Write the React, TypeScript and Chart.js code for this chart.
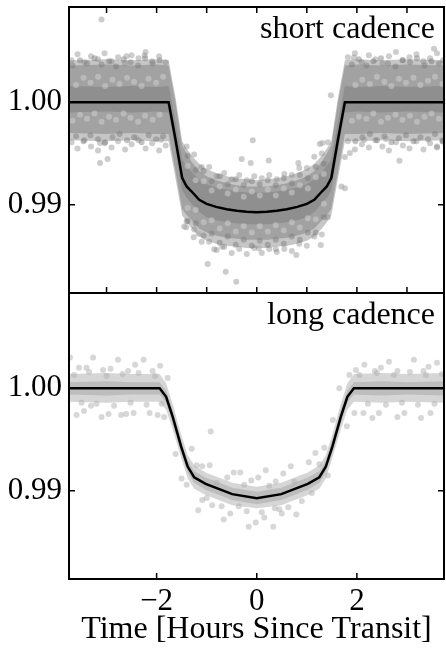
import { useEffect, useRef } from 'react';
import { Chart, registerables } from 'chart.js';

Chart.register(...registerables);

// ---- axis limits (shared by both panels) ----
const X_MIN = -3.75;
const X_MAX = 3.74;
const Y_MIN = 0.9814;
const Y_MAX = 1.0093;

// ---- tick values ----
const yTickValues = [0.99, 1.0];
const xLabelTicks = [-2, 0, 2];
const xMinorTicks = [-3, -2, -1, 0, 1, 2, 3];

// ---- short cadence: transit model ----
const shortX = [-3.75, -3.0, -2.5, -2.0, -1.76, -1.62, -1.49, -1.4, -1.3, -1.15, -1.0, -0.81, -0.6, -0.4, -0.2, 0, 0.2, 0.4, 0.6, 0.81, 1.0, 1.15, 1.3, 1.4, 1.49, 1.62, 1.76, 2.0, 2.5, 3.0, 3.74];
const shortModel = [1, 1, 1, 1, 1, 0.9963, 0.99264, 0.99179, 0.9913, 0.99049, 0.9901, 0.9898, 0.98958, 0.98942, 0.98932, 0.98928, 0.98932, 0.98942, 0.98958, 0.9898, 0.9901, 0.99049, 0.9913, 0.99179, 0.99264, 0.9963, 1, 1, 1, 1, 1];

// short cadence point cloud: outer (light), middle and core (dark) density envelopes
const shortOuterHi = [1.0041, 1.0042, 1.0041, 1.0042, 1.0041, 1.0004, 0.9962, 0.9955, 0.9948, 0.994, 0.9935, 0.9931, 0.9928, 0.9926, 0.9925, 0.9924, 0.9925, 0.9926, 0.9928, 0.9931, 0.9935, 0.994, 0.9948, 0.9955, 0.9962, 1.0004, 1.0041, 1.0042, 1.0041, 1.0042, 1.0041];
const shortOuterLo = [0.9963, 0.9962, 0.9963, 0.9962, 0.9962, 0.9925, 0.989, 0.9883, 0.9877, 0.9869, 0.9865, 0.9862, 0.986, 0.9859, 0.9858, 0.9858, 0.9858, 0.9859, 0.986, 0.9862, 0.9865, 0.9869, 0.9877, 0.9883, 0.989, 0.9925, 0.9962, 0.9962, 0.9963, 0.9962, 0.9963];
const shortMidHi = [1.0036, 1.0037, 1.0036, 1.0037, 1.0036, 0.9999, 0.9958, 0.995, 0.9942, 0.9933, 0.9928, 0.9924, 0.9921, 0.9919, 0.9918, 0.9918, 0.9918, 0.9919, 0.9921, 0.9924, 0.9928, 0.9933, 0.9942, 0.995, 0.9958, 0.9999, 1.0036, 1.0037, 1.0036, 1.0037, 1.0036];
const shortMidLo = [0.997, 0.9969, 0.997, 0.9969, 0.9969, 0.9932, 0.9896, 0.989, 0.9885, 0.9877, 0.9873, 0.987, 0.9868, 0.9867, 0.9866, 0.9866, 0.9866, 0.9867, 0.9868, 0.987, 0.9873, 0.9877, 0.9885, 0.989, 0.9896, 0.9932, 0.9969, 0.9969, 0.997, 0.9969, 0.997];
const shortCoreHi = [1.0016, 1.0015, 1.0016, 1.0015, 1.0016, 0.998, 0.9944, 0.9938, 0.9932, 0.9925, 0.992, 0.9917, 0.9915, 0.9913, 0.9912, 0.9912, 0.9912, 0.9913, 0.9915, 0.9917, 0.992, 0.9925, 0.9932, 0.9938, 0.9944, 0.998, 1.0016, 1.0015, 1.0016, 1.0015, 1.0016];
const shortCoreLo = [0.999, 0.9991, 0.999, 0.9991, 0.999, 0.9952, 0.9914, 0.9907, 0.9901, 0.9893, 0.9888, 0.9885, 0.9883, 0.9882, 0.9881, 0.9881, 0.9881, 0.9882, 0.9883, 0.9885, 0.9888, 0.9893, 0.9901, 0.9907, 0.9914, 0.9952, 0.999, 0.9991, 0.999, 0.9991, 0.999];

// short cadence ragged cloud edge
const shortFuzzX = [
  -3.7, -3.58, -3.44, -3.31, -3.17, -3.04, -2.9, -2.77, -2.63, -2.5, -2.36, -2.22, -2.09, -1.95, -1.82,
  1.82, 1.96, 2.1, 2.24, 2.37, 2.51, 2.64, 2.78, 2.92, 3.05, 3.19, 3.33, 3.46, 3.6, 3.72,
  -3.7, -3.58, -3.44, -3.31, -3.17, -3.04, -2.9, -2.77, -2.63, -2.5, -2.36, -2.22, -2.09, -1.95, -1.82,
  1.82, 1.96, 2.1, 2.24, 2.37, 2.51, 2.64, 2.78, 2.92, 3.05, 3.19, 3.33, 3.46, 3.6, 3.72,
  -1.4, -1.25, -1.1, -0.95, -0.8, -0.65, -0.5, -0.35, -0.2, -0.05, 0.1, 0.25, 0.4, 0.55, 0.7, 0.85, 1.0, 1.15, 1.3, 1.42,
  -1.4, -1.25, -1.1, -0.95, -0.8, -0.65, -0.5, -0.35, -0.2, -0.05, 0.1, 0.25, 0.4, 0.55, 0.7, 0.85, 1.0, 1.15, 1.3, 1.42,
];
const shortFuzzY = [
  1.0041, 1.0047, 1.0039, 1.0045, 1.0042, 1.0048, 1.004, 1.0044, 1.0038, 1.0046, 1.0043, 1.0049, 1.004, 1.0045, 1.0039,
  1.0044, 1.0048, 1.0039, 1.0046, 1.0042, 1.0038, 1.0045, 1.0049, 1.0041, 1.0044, 1.0047, 1.004, 1.0043, 1.0048, 1.0041,
  0.9961, 0.9955, 0.9963, 0.9957, 0.9953, 0.996, 0.9956, 0.9962, 0.9954, 0.9959, 0.9963, 0.9955, 0.996, 0.9953, 0.9958,
  0.9962, 0.9954, 0.9959, 0.9956, 0.9963, 0.9957, 0.9953, 0.9961, 0.9958, 0.9955, 0.9962, 0.9954, 0.996, 0.9956, 0.9962,
  0.9957, 0.9949, 0.9937, 0.9937, 0.9928, 0.9931, 0.9925, 0.9929, 0.9924, 0.9928, 0.9926, 0.9929, 0.9925, 0.993, 0.9929, 0.9936, 0.9936, 0.9947, 0.995, 0.9961,
  0.9884, 0.9876, 0.9864, 0.9864, 0.9856, 0.9859, 0.9853, 0.9857, 0.9852, 0.9858, 0.9853, 0.9857, 0.9854, 0.9857, 0.9855, 0.9862, 0.986, 0.9869, 0.9871, 0.9888,
];

// short cadence darker specks in the light fringe
const shortDarkX = [
  -3.68, -3.53, -3.39, -3.24, -3.1, -2.95, -2.81, -2.66, -2.52, -2.37, -2.23, -2.08, -1.94, 1.9, 2.04, 2.19, 2.33, 2.48, 2.62, 2.77, 2.91, 3.06, 3.2, 3.35, 3.49, 3.64,
  -3.61, -3.46, -3.32, -3.17, -3.03, -2.88, -2.74, -2.59, -2.45, -2.3, -2.16, -2.01, -1.87, 1.97, 2.11, 2.26, 2.4, 2.55, 2.69, 2.84, 2.98, 3.13, 3.27, 3.42, 3.56, 3.71,
  -1.38, -1.22, -1.06, -0.9, -0.74, -0.58, -0.42, -0.26, -0.1, 0.06, 0.22, 0.38, 0.54, 0.7, 0.86, 1.02, 1.18, 1.34,
  -1.38, -1.22, -1.06, -0.9, -0.74, -0.58, -0.42, -0.26, -0.1, 0.06, 0.22, 0.38, 0.54, 0.7, 0.86, 1.02, 1.18, 1.34,
];
const shortDarkY = [
  1.0036, 1.0041, 1.0038, 1.0043, 1.0037, 1.004, 1.0035, 1.0042, 1.0039, 1.0036, 1.0043, 1.0038, 1.0041, 1.0037, 1.0042, 1.0036, 1.004, 1.0043, 1.0038, 1.0035, 1.0041, 1.0039, 1.0043, 1.0036, 1.004, 1.0038,
  0.9967, 0.9962, 0.9968, 0.9964, 0.9961, 0.9966, 0.9969, 0.9963, 0.9966, 0.9961, 0.9968, 0.9964, 0.9967, 0.9962, 0.9966, 0.9969, 0.9963, 0.9967, 0.9961, 0.9965, 0.9968, 0.9962, 0.9966, 0.9964, 0.9969, 0.9963,
  0.9948, 0.9934, 0.9933, 0.9923, 0.9928, 0.992, 0.9925, 0.9919, 0.9923, 0.992, 0.9924, 0.9919, 0.9926, 0.9921, 0.9929, 0.9926, 0.9937, 0.994,
  0.9884, 0.9882, 0.987, 0.9872, 0.9863, 0.9869, 0.9861, 0.9866, 0.986, 0.9865, 0.9861, 0.9866, 0.9862, 0.9869, 0.9866, 0.9873, 0.9873, 0.9888,
];

// short cadence lighter specks inside the dense band
const shortLightX = [
  -3.61, -3.46, -3.32, -3.17, -3.03, -2.88, -2.74, -2.59, -2.45, -2.3, -2.16, -2.01, -1.87, 1.97, 2.11, 2.26, 2.4, 2.55, 2.69, 2.84, 2.98, 3.13, 3.27, 3.42, 3.56, 3.71,
  -3.68, -3.53, -3.39, -3.24, -3.1, -2.95, -2.81, -2.66, -2.52, -2.37, -2.23, -2.08, -1.94, 1.9, 2.04, 2.19, 2.33, 2.48, 2.62, 2.77, 2.91, 3.06, 3.2, 3.35, 3.49, 3.64,
  -1.38, -1.22, -1.06, -0.9, -0.74, -0.58, -0.42, -0.26, -0.1, 0.06, 0.22, 0.38, 0.54, 0.7, 0.86, 1.02, 1.18, 1.34,
  -1.38, -1.22, -1.06, -0.9, -0.74, -0.58, -0.42, -0.26, -0.1, 0.06, 0.22, 0.38, 0.54, 0.7, 0.86, 1.02, 1.18, 1.34,
];
const shortLightY = [
  1.0017, 1.0024, 1.0019, 1.0025, 1.0016, 1.0022, 1.0018, 1.0024, 1.002, 1.0016, 1.0023, 1.0019, 1.0025, 1.0017, 1.0022, 1.0018, 1.0025, 1.002, 1.0016, 1.0023, 1.0019, 1.0024, 1.0017, 1.0021, 1.0025, 1.0018,
  0.9982, 0.9988, 0.9984, 0.9989, 0.9981, 0.9986, 0.9983, 0.9989, 0.9985, 0.9981, 0.9987, 0.9983, 0.9988, 0.9982, 0.9986, 0.9984, 0.9989, 0.9981, 0.9985, 0.9988, 0.9983, 0.9987, 0.9981, 0.9986, 0.9989, 0.9984,
  0.9938, 0.9924, 0.9923, 0.9914, 0.9918, 0.9911, 0.9915, 0.9908, 0.9913, 0.9909, 0.9915, 0.9909, 0.9916, 0.9912, 0.9919, 0.9916, 0.9927, 0.993,
  0.9897, 0.9895, 0.9883, 0.9885, 0.9877, 0.9882, 0.9874, 0.9879, 0.9873, 0.9879, 0.9874, 0.988, 0.9875, 0.9883, 0.9878, 0.9887, 0.9886, 0.9901,
];

// short cadence isolated outliers
const shortOutX = [-3.13, -2.98, -3.1, -2.24, -2.6, -3.13, -2.4, -1.91, -0.08, -0.3, -0.12, 0.24, 0.83, 1.48, 1.26, 1.31, 1.69, 1.76, 2.85, 2.58, 2.15, 3.6, 3.71, 1.86, 1.76, 3.54, 1.94, -0.98, -0.62, -0.41, 0.79, 1.28, -0.85, -0.69, 0.38, 0.04, -1.45, -1.26, -1.41, -1.16];
const shortOutY = [0.99408, 0.99447, 1.00808, 1.00457, 1.0045, 0.99603, 0.99652, 0.99635, 0.99629, 0.99447, 0.99408, 0.99433, 0.99408, 1.00068, 0.99593, 0.99603, 0.99179, 0.99163, 0.9943, 0.99642, 0.99635, 0.9957, 0.99619, 0.99505, 0.99466, 1.00522, 1.00434, 0.98423, 0.98348, 0.9825, 0.98511, 0.98609, 0.98567, 0.98592, 0.98567, 0.98577, 0.98788, 0.98684, 0.98782, 0.98717];

// ---- long cadence: transit model ----
const longX = [-3.75, -3.0, -2.5, -1.94, -1.81, -1.68, -1.51, -1.38, -1.25, -1.02, -0.49, 0, 0.49, 1.02, 1.25, 1.38, 1.51, 1.68, 1.81, 1.94, 2.5, 3.0, 3.74];
const longModel = [1, 1, 1, 1, 0.99918, 0.99724, 0.99431, 0.99237, 0.99133, 0.99068, 0.98968, 0.98929, 0.98968, 0.99068, 0.99133, 0.99237, 0.99431, 0.99724, 0.99918, 1, 1, 1, 1];

// long cadence dense band around the model
const longOuterHi = [1.0014, 1.0015, 1.0014, 1.0014, 1.0005, 0.9985, 0.9955, 0.9935, 0.9925, 0.9918, 0.9908, 0.9904, 0.9908, 0.9918, 0.9925, 0.9935, 0.9955, 0.9985, 1.0005, 1.0014, 1.0015, 1.0014, 1.0015];
const longOuterLo = [0.9987, 0.9986, 0.9987, 0.9987, 0.9979, 0.996, 0.9932, 0.9912, 0.9902, 0.9896, 0.9886, 0.9883, 0.9886, 0.9896, 0.9902, 0.9912, 0.9932, 0.996, 0.9979, 0.9987, 0.9986, 0.9987, 0.9986];
const longInnerHi = [1.0006, 1.0007, 1.0006, 1.0006, 0.9998, 0.9979, 0.9949, 0.993, 0.9919, 0.9913, 0.9903, 0.9899, 0.9903, 0.9913, 0.9919, 0.993, 0.9949, 0.9979, 0.9998, 1.0006, 1.0007, 1.0006, 1.0007];
const longInnerLo = [0.9994, 0.9993, 0.9994, 0.9994, 0.9986, 0.9966, 0.9937, 0.9918, 0.9908, 0.9901, 0.9891, 0.9887, 0.9891, 0.9901, 0.9908, 0.9918, 0.9937, 0.9966, 0.9986, 0.9994, 0.9993, 0.9994, 0.9993];

// long cadence individual points
const longDotX = [
  -3.73, -3.6, -3.55, -3.45, -3.4, -3.31, -3.27, -3.1, -3.07, -2.96, -2.92, -2.77, -2.71, -2.61, -2.57, -2.46, -2.43, -2.26, -2.14, -2.08, -1.98, -1.93, -1.85, -1.78,
  -1.62, -1.5, -1.3, -1.17, -1.09, -1.09, -0.94, -0.92, -0.89, -0.66, -0.59, -0.53, -0.46, -0.36, -0.33, -0.16, -0.11, -0.02, 0.03, 0.15, 0.18, 0.33, 0.36, 0.38, 0.5, 0.53, 0.63, 0.68, 0.79,
  1.04, 1.17, 1.35, 1.52, 1.65, 1.8, 1.85, 1.95, 1.98, 2.13, 2.15, 2.31, 2.36, 2.44, 2.48, 2.64, 2.81, 2.81, 2.95, 3.14, 3.28, 3.33, 3.43, 3.47, 3.6,
  -3.65, -3.5, -3.35, -3.2, -3.0, -2.85, -2.68, -2.52, -2.36, -2.2, -2.03, -1.9,
  -1.4, -1.2, -1.0, -0.8, -0.7, -0.25, -0.2, 0.1, 0.25, 0.45, 0.75, 0.9, 1.1, 1.25, 1.42,
  2.05, 2.22, 2.4, 2.58, 2.74, 2.9, 3.06, 3.22, 3.38, 3.55, 3.7,
];
const longDotY = [
  1.003, 0.9974, 1.002, 0.9978, 1.002, 0.9983, 1.003, 0.9972, 1.0018, 0.9975, 1.0019, 1.0028, 0.9974, 0.9975, 1.0017, 0.9976, 1.0023, 1.0028, 0.9976, 1.0017, 0.9974, 1.0022, 0.9972, 1.001,
  0.9936, 0.9912, 0.9941, 0.9881, 0.9891, 0.9924, 0.9925, 0.9958, 0.9886, 0.9872, 0.9913, 0.9878, 0.9918, 0.9885, 0.9918, 0.9865, 0.991, 0.9869, 0.9913, 0.9874, 0.992, 0.9865, 0.9883, 0.9909, 0.9878, 0.9917, 0.9884, 0.9924, 0.9877,
  0.9928, 0.9937, 0.9942, 0.9969, 1.0, 0.9963, 1.0013, 0.9976, 1.0018, 0.9976, 1.0023, 0.9971, 1.0017, 0.9976, 1.002, 1.0026, 1.0017, 0.9972, 0.9976, 1.0028, 0.9971, 1.0017, 1.0021, 0.9976, 1.0025,
  1.0013, 0.9986, 1.0016, 0.9985, 1.0012, 0.9983, 1.0014, 0.9986, 1.0015, 0.9984, 1.0012, 0.9985,
  0.9906, 0.9925, 0.9893, 0.9908, 0.9885, 0.9906, 0.988, 0.9879, 0.9905, 0.9882, 0.9909, 0.989, 0.9898, 0.9926, 0.9915,
  1.0013, 0.9985, 1.0015, 0.9984, 1.0013, 0.9986, 1.0016, 0.9984, 1.0013, 0.9985, 1.0014,
];

const FONT_FAMILY = '"Liberation Serif", "Times New Roman", serif';

const zip = (xs: number[], ys: number[]) => xs.map((x, i) => ({ x, y: ys[i] }));

function band(xs: number[], hi: number[], lo: number[], color: string, order: number) {
  return [
    {
      type: 'line' as const,
      data: zip(xs, hi),
      showLine: true,
      borderWidth: 0,
      borderColor: 'rgba(0,0,0,0)',
      pointRadius: 0,
      fill: '+1',
      backgroundColor: color,
      order,
    },
    {
      type: 'line' as const,
      data: zip(xs, lo),
      showLine: true,
      borderWidth: 0,
      borderColor: 'rgba(0,0,0,0)',
      pointRadius: 0,
      fill: false,
      order,
    },
  ];
}

function dots(xs: number[], ys: number[], color: string, order: number, radius = 3) {
  return {
    type: 'scatter' as const,
    data: zip(xs, ys),
    pointRadius: radius,
    pointBorderWidth: 0,
    pointBackgroundColor: color,
    showLine: false,
    order,
  };
}

function modelLine(xs: number[], ys: number[]) {
  return {
    type: 'line' as const,
    data: zip(xs, ys),
    showLine: true,
    borderColor: '#000',
    borderWidth: 2.5,
    pointRadius: 0,
    fill: false,
    tension: 0,
    order: 0,
  };
}

// Draws the axes frame, inward tick marks and the panel caption.
const panelFrame = {
  id: 'panelFrame',
  afterDatasetsDraw(chart: any, _args: any, opts: any) {
    const { ctx, chartArea: a, scales } = chart;
    const len = 6;
    ctx.save();
    ctx.strokeStyle = '#000';
    ctx.lineWidth = 1.5;
    ctx.beginPath();
    for (const v of opts.topTicks || []) {
      const x = scales.x.getPixelForValue(v);
      ctx.moveTo(x, a.top);
      ctx.lineTo(x, a.top + len);
    }
    for (const v of opts.bottomTicks || []) {
      const x = scales.x.getPixelForValue(v);
      ctx.moveTo(x, a.bottom);
      ctx.lineTo(x, a.bottom - len);
    }
    for (const v of yTickValues) {
      const y = scales.y.getPixelForValue(v);
      ctx.moveTo(a.left, y);
      ctx.lineTo(a.left + len, y);
      ctx.moveTo(a.right, y);
      ctx.lineTo(a.right - len, y);
    }
    ctx.stroke();
    ctx.lineWidth = 2;
    ctx.strokeRect(a.left, a.top, a.right - a.left, a.bottom - a.top);
    ctx.fillStyle = '#000';
    ctx.font = `32px ${FONT_FAMILY}`;
    ctx.textAlign = 'right';
    ctx.textBaseline = 'alphabetic';
    ctx.fillText(opts.label, a.right - 9, a.top + 31);
    ctx.restore();
  },
};

function yScale() {
  return {
    type: 'linear' as const,
    min: Y_MIN,
    max: Y_MAX,
    afterBuildTicks: (s: any) => {
      s.ticks = yTickValues.map((value) => ({ value }));
    },
    afterFit: (s: any) => {
      s.width = 69;
      s.paddingTop = 0;
      s.paddingBottom = 0;
    },
    grid: { display: false, drawTicks: false },
    border: { display: false },
    ticks: {
      color: '#000',
      padding: 7,
      font: { family: FONT_FAMILY, size: 31 },
      callback: (v: any) => Number(v).toFixed(2),
    },
  };
}

function baseOptions(padding: any, xScale: any, frame: any) {
  return {
    animation: false as const,
    responsive: false,
    maintainAspectRatio: false,
    events: [],
    layout: { padding },
    plugins: {
      legend: { display: false },
      tooltip: { enabled: false },
      panelFrame: frame,
    },
    scales: { x: xScale, y: yScale() },
  };
}

export default function App() {
  const topRef = useRef<HTMLCanvasElement>(null);
  const bottomRef = useRef<HTMLCanvasElement>(null);

  useEffect(() => {
    const topChart = new Chart(topRef.current as HTMLCanvasElement, {
      type: 'scatter',
      data: {
        datasets: [
          modelLine(shortX, shortModel),
          dots(shortDarkX, shortDarkY, 'rgba(120,120,120,0.45)', 1),
          dots(shortLightX, shortLightY, 'rgba(205,205,205,0.55)', 1),
          dots(shortFuzzX, shortFuzzY, 'rgba(130,130,130,0.4)', 1),
          dots(shortOutX, shortOutY, 'rgba(170,170,170,0.6)', 1),
          ...band(shortX, shortCoreHi, shortCoreLo, '#8f8f8f', 2),
          ...band(shortX, shortMidHi, shortMidLo, '#a2a2a2', 3),
          ...band(shortX, shortOuterHi, shortOuterLo, '#c6c6c6', 4),
        ] as any,
      },
      options: baseOptions(
        { top: 7, bottom: 358, left: 0, right: 1 },
        { type: 'linear', min: X_MIN, max: X_MAX, display: false },
        { label: 'short cadence', topTicks: xMinorTicks, bottomTicks: xMinorTicks },
      ) as any,
      plugins: [panelFrame],
    });

    const bottomChart = new Chart(bottomRef.current as HTMLCanvasElement, {
      type: 'scatter',
      data: {
        datasets: [
          modelLine(longX, longModel),
          dots(longDotX, longDotY, 'rgba(175,175,175,0.5)', 1),
          ...band(longX, longInnerHi, longInnerLo, 'rgba(160,160,160,0.45)', 2),
          ...band(longX, longOuterHi, longOuterLo, '#d6d6d6', 3),
        ] as any,
      },
      options: baseOptions(
        { top: 293, bottom: 0, left: 0, right: 1 },
        {
          type: 'linear',
          min: X_MIN,
          max: X_MAX,
          afterBuildTicks: (s: any) => {
            s.ticks = xLabelTicks.map((value) => ({ value }));
          },
          afterFit: (s: any) => {
            s.height = 72;
            s.paddingLeft = 0;
            s.paddingRight = 0;
          },
          grid: { display: false, drawTicks: false },
          border: { display: false },
          ticks: {
            color: '#000',
            padding: 4,
            maxRotation: 0,
            autoSkip: false,
            font: { family: FONT_FAMILY, size: 31 },
            callback: (v: any) => (Number(v) < 0 ? '\u2212' + Math.abs(Number(v)) : String(v)),
          },
          title: {
            display: true,
            text: 'Time [Hours Since Transit]',
            color: '#000',
            font: { family: FONT_FAMILY, size: 32 },
            padding: { top: 0, bottom: 2 },
          },
        },
        { label: 'long cadence', topTicks: [], bottomTicks: xLabelTicks },
      ) as any,
      plugins: [panelFrame],
    });

    return () => {
      topChart.destroy();
      bottomChart.destroy();
    };
  }, []);

  const canvasStyle = { position: 'absolute' as const, left: 0, top: 0, width: 448, height: 651 };
  return (
    <div style={{ position: 'fixed', left: 0, top: 0, width: 446, height: 651, overflow: 'hidden', background: '#fff' }}>
      <canvas ref={topRef} width={448} height={651} style={canvasStyle} />
      <canvas ref={bottomRef} width={448} height={651} style={canvasStyle} />
    </div>
  );
}
